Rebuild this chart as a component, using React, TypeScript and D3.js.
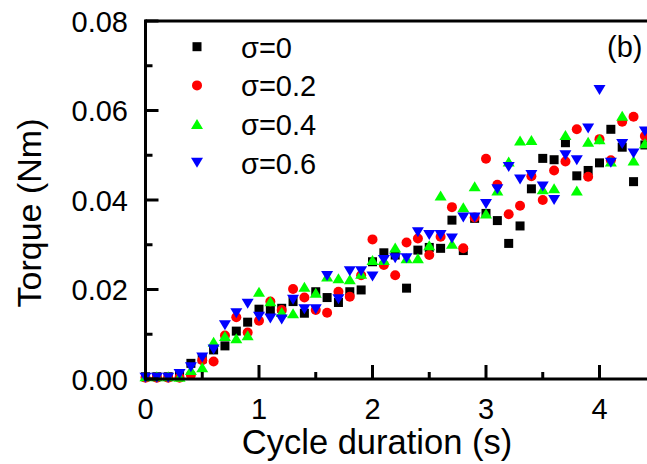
import React from 'react'
import * as d3 from 'd3'

// cycle duration (s), one point every 0.1 s
const cycleDuration = [
  0.0, 0.1, 0.2, 0.3, 0.4, 0.5, 0.6, 0.7, 0.8, 0.9,
  1.0, 1.1, 1.2, 1.3, 1.4, 1.5, 1.6, 1.7, 1.8, 1.9,
  2.0, 2.1, 2.2, 2.3, 2.4, 2.5, 2.6, 2.7, 2.8, 2.9,
  3.0, 3.1, 3.2, 3.3, 3.4, 3.5, 3.6, 3.7, 3.8, 3.9,
  4.0, 4.1, 4.2, 4.3, 4.4,
]

// torque (Nm) for each sigma
const sigma0 = [
  0.0005, 0.0005, 0.0005, 0.0008, 0.0035, 0.0045, 0.0065, 0.0074, 0.0107, 0.0127,
  0.0156, 0.0154, 0.0158, 0.0173, 0.0147, 0.0195, 0.0182, 0.0171, 0.0195, 0.0199,
  0.0262, 0.0282, 0.0277, 0.0203, 0.0288, 0.0294, 0.0292, 0.0355, 0.0287, 0.0359,
  0.037, 0.0354, 0.0303, 0.0342, 0.0425, 0.0493, 0.049, 0.0528, 0.0454, 0.0466,
  0.0483, 0.0558, 0.0518, 0.0441, 0.0523,
]
const sigma02 = [
  0.0003, 0.0003, 0.0003, 0.0003, 0.0009, 0.0042, 0.0039, 0.0097, 0.0138, 0.0104,
  0.013, 0.0173, 0.0154, 0.0201, 0.0182, 0.0154, 0.0148, 0.0195, 0.0184, 0.0232,
  0.0312, 0.0255, 0.0232, 0.0305, 0.0314, 0.0277, 0.0318, 0.0384, 0.0292, 0.0361,
  0.0492, 0.0434, 0.0368, 0.0387, 0.0453, 0.04, 0.0466, 0.0486, 0.0558, 0.0452,
  0.0536, 0.0489, 0.0575, 0.0586, 0.0543,
]
const sigma04 = [
  0.0006, 0.0006, 0.0006, 0.0005, 0.002, 0.0026, 0.0083, 0.0096, 0.0091, 0.0098,
  0.0195, 0.0174, 0.015, 0.0147, 0.0206, 0.0193, 0.0229, 0.0225, 0.0223, 0.0235,
  0.0266, 0.0266, 0.0294, 0.027, 0.027, 0.0299, 0.041, 0.0302, 0.0384, 0.0431,
  0.037, 0.0421, 0.0486, 0.0533, 0.0534, 0.0424, 0.0426, 0.0545, 0.0421, 0.053,
  0.0536, 0.0486, 0.0588, 0.0488, 0.0527,
]
const sigma06 = [
  0.0003, 0.0003, 0.0003, 0.0011, 0.0026, 0.0048, 0.0066, 0.012, 0.0147, 0.0168,
  0.0139, 0.0135, 0.0133, 0.0177, 0.0156, 0.0156, 0.023, 0.0178, 0.0241, 0.0241,
  0.0229, 0.0266, 0.027, 0.027, 0.0328, 0.0322, 0.0322, 0.0314, 0.0361, 0.0361,
  0.0391, 0.0424, 0.0474, 0.0446, 0.0456, 0.043, 0.04, 0.05, 0.0489, 0.056,
  0.0646, 0.0483, 0.0525, 0.0504, 0.0553,
]

const seriesLabels = ['σ=0', 'σ=0.2', 'σ=0.4', 'σ=0.6']

const xMajorTicks = [0, 1, 2, 3, 4]
const xMinorTicks = [0.5, 1.5, 2.5, 3.5]
const yMajorTicks = [0, 0.02, 0.04, 0.06, 0.08]
const yMinorTicks = [0.01, 0.03, 0.05, 0.07]

const W = 647, H = 464
const FONT = '"Liberation Sans", Arial, Helvetica, sans-serif'

const series = [
  { label: seriesLabels[0], values: sigma0, color: '#000000', shape: 'square' },
  { label: seriesLabels[1], values: sigma02, color: '#ff0000', shape: 'circle' },
  { label: seriesLabels[2], values: sigma04, color: '#00ff00', shape: 'up' },
  { label: seriesLabels[3], values: sigma06, color: '#0000ff', shape: 'down' },
]

const Marker = ({ shape, x, y, color }) => {
  if (shape === 'square') return <rect x={x - 4.5} y={y - 4.5} width={9} height={9} fill={color} />
  if (shape === 'circle') return <circle cx={x} cy={y} r={5} fill={color} />
  if (shape === 'up') return <polygon points={`${x - 6},${y + 5} ${x + 6},${y + 5} ${x},${y - 5}`} fill={color} />
  return <polygon points={`${x - 6},${y - 5} ${x + 6},${y - 5} ${x},${y + 5}`} fill={color} />
}

export default function App() {
  const x = d3.scaleLinear().domain([0, 4.5]).range([145.5, 145.5 + 4.5 * 113.5])
  const y = d3.scaleLinear().domain([0, 0.08]).range([379, 21])
  const fmtY = d3.format('.2f')

  return (
    <svg width={W} height={H} style={{ position: 'absolute', left: 0, top: 0, background: '#fff' }}
      fontFamily={FONT}>
      {/* data */}
      {series.map(s => (
        <g key={s.label}>
          {s.values.map((v, i) => (
            <Marker key={i} shape={s.shape} x={x(cycleDuration[i])} y={y(v)} color={s.color} />
          ))}
        </g>
      ))}

      {/* frame */}
      <g stroke="#000" strokeWidth={3} fill="none">
        <line x1={x(0)} x2={W} y1={y(0)} y2={y(0)} />
        <line x1={x(0)} x2={W} y1={y(0.08)} y2={y(0.08)} />
        <line x1={x(0)} x2={x(0)} y1={y(0.08) - 1.5} y2={y(0) + 1.5} />
        {xMajorTicks.map(t => <line key={'xM' + t} x1={x(t)} x2={x(t)} y1={y(0)} y2={y(0) - 14} />)}
        {xMinorTicks.map(t => <line key={'xm' + t} x1={x(t)} x2={x(t)} y1={y(0)} y2={y(0) - 7} />)}
        {yMajorTicks.map(t => <line key={'yM' + t} x1={x(0)} x2={x(0) + 13} y1={y(t)} y2={y(t)} />)}
        {yMinorTicks.map(t => <line key={'ym' + t} x1={x(0)} x2={x(0) + 7} y1={y(t)} y2={y(t)} />)}
      </g>

      {/* tick labels */}
      <g fontSize={29} fill="#000">
        {xMajorTicks.map(t => (
          <text key={'xl' + t} x={x(t)} y={419} textAnchor="middle">{t}</text>
        ))}
        {yMajorTicks.map(t => (
          <text key={'yl' + t} x={128} y={y(t) + 10.5} textAnchor="end">{fmtY(t)}</text>
        ))}
      </g>

      {/* axis titles */}
      <text x={377} y={454} fontSize={34.5} textAnchor="middle">Cycle duration (s)</text>
      <text transform="translate(41,213) rotate(-90)" fontSize={34} textAnchor="middle">Torque (Nm)</text>

      {/* legend */}
      {series.map((s, i) => (
        <g key={'lg' + s.label}>
          <Marker shape={s.shape} x={197} y={46.7 + i * 38.7} color={s.color} />
          <text x={241} y={57.7 + i * 38.7} fontSize={29}>{s.label}</text>
        </g>
      ))}

      <text x={607} y={57} fontSize={29}>(b)</text>
    </svg>
  )
}
